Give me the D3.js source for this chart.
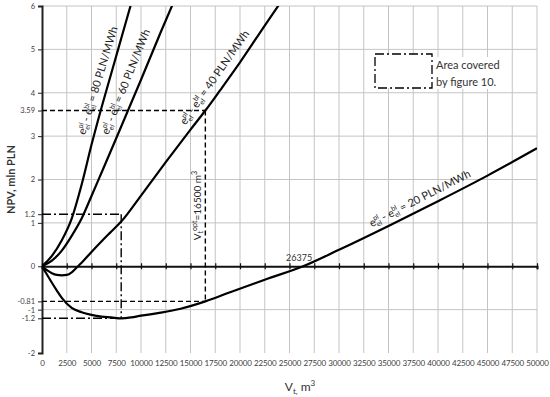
<!DOCTYPE html>
<html><head><meta charset="utf-8">
<script src="https://cdn.jsdelivr.net/npm/d3@7"></script>
<style>
body{margin:0;background:#fff;}
svg{display:block;font-family:Lato,"Open Sans",sans-serif;}
</style></head>
<body>
<svg id="chart" width="550" height="397"></svg>
<script>
// ---- data ----
const x20 = [0, 500, 1000, 1500, 2000, 3000, 4000, 5000, 6000, 7000, 8000, 9000, 10000, 12000, 14000, 16500, 19000, 22500, 26375, 30000, 35000, 40000, 45000, 50000];
const y20 = [0, -0.19, -0.38, -0.56, -0.73, -0.96, -1.06, -1.12, -1.16, -1.18, -1.2, -1.18, -1.14, -1.07, -0.98, -0.81, -0.6, -0.31, 0, 0.38, 0.93, 1.5, 2.09, 2.72];
const x40 = [0, 500, 1000, 1500, 2000, 2500, 3000, 3500, 4000, 5000, 6000, 7000, 8000, 10000, 12500, 15000, 16500, 18000, 20000, 22500, 24000];
const y40 = [0, -0.09, -0.16, -0.2, -0.21, -0.2, -0.14, -0.03, 0.08, 0.33, 0.57, 0.8, 1.03, 1.63, 2.4, 3.15, 3.59, 4.06, 4.7, 5.55, 6.05];
const x60 = [0, 1000, 2000, 3000, 4000, 5000, 6000, 7500, 10000, 12000, 13500];
const y60 = [0, 0.13, 0.36, 0.7, 1.1, 1.62, 2.15, 2.95, 4.3, 5.4, 6.2];
const x80 = [0, 1000, 2000, 3000, 4000, 5000, 6000, 7000, 8000, 9000, 9500];
const y80 = [0, 0.24, 0.6, 1.1, 1.88, 2.8, 3.65, 4.45, 5.25, 6.05, 6.45];

const seriesValues = ["80", "60", "40", "20"];
const xTicks = d3.range(0, 50001, 2500);
const yTicks = [-2, -1, 0, 1, 2, 3, 4, 5, 6];
const yExtraTicks = [3.59, 1.2, -0.81, -1.2];
const vOpt = 16500, npvOptHigh = 3.59, npvOptLow = -0.81;
const vArea = 8000, areaHigh = 1.2, areaLow = -1.2;
const breakEven = 26375;

// ---- scales ----
const svg = d3.select("#chart");
const x = d3.scaleLinear().domain([0, 50000]).range([42, 537]);
const y = d3.scaleLinear().domain([-2, 6]).range([353, 6]);

svg.append("defs").append("clipPath").attr("id", "clip")
  .append("rect").attr("x", x(0)).attr("y", y(6)).attr("width", x(50000) - x(0)).attr("height", y(-2) - y(6));

// gridlines
const grid = svg.append("g");
grid.selectAll("line.v").data(xTicks.filter(d => d > 0)).join("line")
  .attr("x1", d => x(d)).attr("x2", d => x(d)).attr("y1", y(6)).attr("y2", y(-2))
  .attr("stroke", "#c4c4c4").attr("stroke-width", 1);
grid.selectAll("line.h").data(yTicks.filter(d => d !== 0 && d !== -2)).join("line")
  .attr("x1", x(0)).attr("x2", x(50000)).attr("y1", d => y(d)).attr("y2", d => y(d))
  .attr("stroke", "#c4c4c4").attr("stroke-width", 1);

// left axis
const yAxis = svg.append("g").attr("transform", `translate(${x(0)},0)`)
  .call(d3.axisLeft(y).tickValues(yTicks.concat(yExtraTicks)).tickSize(4).tickPadding(3).tickFormat(d => String(d)));
yAxis.select(".domain").attr("stroke", "#222").attr("stroke-width", 2);
yAxis.selectAll(".tick line").attr("stroke", "#222");
yAxis.selectAll(".tick text").attr("font-size", 7.5).attr("fill", "#404040").attr("font-family", "Lato, sans-serif");

// x axis at zero
const xAxis = svg.append("g").attr("transform", `translate(0,${y(0)})`)
  .call(d3.axisBottom(x).tickValues(xTicks).tickSize(3).tickFormat(""));
xAxis.select(".domain").attr("stroke", "#111").attr("stroke-width", 2);
xAxis.selectAll(".tick line").attr("y1", -3).attr("y2", 3).attr("stroke", "#111").attr("stroke-width", 1.2);

// bottom labels
const xLab = svg.append("g").attr("transform", `translate(0,${y(-2)})`)
  .call(d3.axisBottom(x).tickValues(xTicks).tickSize(0).tickPadding(7).tickFormat(d => String(d)));
xLab.select(".domain").remove();
xLab.selectAll(".tick text").attr("font-size", 8).attr("letter-spacing", -0.15).attr("fill", "#404040").attr("font-family", "Lato, sans-serif");

// axis titles
svg.append("text").attr("transform", `translate(15,${(y(6) + y(-2)) / 2}) rotate(-90)`)
  .attr("text-anchor", "middle").attr("font-size", 11).attr("font-weight", "bold").attr("fill", "#333")
  .text("NPV, mln PLN");
const xt = svg.append("text").attr("x", 300).attr("y", 391).attr("text-anchor", "middle")
  .attr("font-size", 12).attr("fill", "#333");
xt.append("tspan").text("V");
xt.append("tspan").attr("font-size", 8).attr("dy", 3).text("t,");
xt.append("tspan").attr("dy", -3).text(" m");
xt.append("tspan").attr("font-size", 8).attr("dy", -5).text("3");

// annotation lines
const ann = svg.append("g").attr("fill", "none").attr("stroke", "#000").attr("stroke-width", 1.4);
const dash = "5,3", dashDot = "9,3,2,3";
ann.append("line").attr("x1", x(0)).attr("x2", x(vOpt)).attr("y1", y(npvOptHigh)).attr("y2", y(npvOptHigh)).attr("stroke-dasharray", dash);
ann.append("line").attr("x1", x(0)).attr("x2", x(vOpt)).attr("y1", y(npvOptLow)).attr("y2", y(npvOptLow)).attr("stroke-dasharray", dash);
ann.append("line").attr("x1", x(vOpt)).attr("x2", x(vOpt)).attr("y1", y(npvOptHigh)).attr("y2", y(npvOptLow)).attr("stroke-dasharray", dash);
ann.append("line").attr("x1", x(0)).attr("x2", x(vArea)).attr("y1", y(areaHigh)).attr("y2", y(areaHigh)).attr("stroke-dasharray", dashDot);
ann.append("line").attr("x1", x(0)).attr("x2", x(vArea)).attr("y1", y(areaLow)).attr("y2", y(areaLow)).attr("stroke-dasharray", dashDot);
ann.append("line").attr("x1", x(vArea)).attr("x2", x(vArea)).attr("y1", y(areaHigh)).attr("y2", y(areaLow)).attr("stroke-dasharray", dashDot);

// curves
const line = d3.line().x(d => x(d[0])).y(d => y(d[1])).curve(d3.curveMonotoneX);
const series = [[x80, y80], [x60, y60], [x40, y40], [x20, y20]];
svg.append("g").attr("clip-path", "url(#clip)").selectAll("path").data(series).join("path")
  .attr("d", s => line(s[0].map((v, i) => [v, s[1][i]])))
  .attr("fill", "none").attr("stroke", "#000").attr("stroke-width", 2.2);

// curve labels
function curveLabel(px, py, angle, val) {
  const t = svg.append("text").attr("transform", `translate(${px},${py}) rotate(${angle})`)
    .attr("font-size", 11).attr("fill", "#222");
  t.append("tspan").text("e");
  t.append("tspan").attr("font-size", 7).attr("dy", 2.5).text("el");
  t.append("tspan").attr("font-size", 7).attr("dx", -6).attr("dy", -7).text("pl");
  t.append("tspan").attr("dy", 4.5).text(" - e");
  t.append("tspan").attr("font-size", 7).attr("dy", 2.5).text("el");
  t.append("tspan").attr("font-size", 7).attr("dx", -6).attr("dy", -7).text("bl");
  t.append("tspan").attr("dy", 4.5).text(` = ${val} PLN/MWh`);
}
curveLabel(x(4750) - 4, y(3.0) - 1, -73, seriesValues[0]);
curveLabel(x(7000) - 3, y(3.0) - 1, -68, seriesValues[1]);
curveLabel(x(14800) - 3, y(3.2) - 2, -55, seriesValues[2]);
curveLabel(x(33300), y(0.9), -27, seriesValues[3]);

// Vopt label
const vt = svg.append("text").attr("transform", `translate(${x(vOpt) - 4},${y(1.4)}) rotate(-90)`)
  .attr("text-anchor", "middle").attr("font-size", 10).attr("fill", "#222");
vt.append("tspan").text("V");
vt.append("tspan").attr("font-size", 7).attr("dy", 2).text("t");
vt.append("tspan").attr("font-size", 7).attr("dy", -6).text("opt");
vt.append("tspan").attr("dy", 4).text("=16500 m");
vt.append("tspan").attr("font-size", 7).attr("dy", -4).text("3");

// break-even label
svg.append("text").attr("x", x(breakEven) - 4).attr("y", y(0) - 5).attr("text-anchor", "middle")
  .attr("font-size", 9).attr("fill", "#333").text(String(breakEven));

// legend box
svg.append("rect").attr("x", 375).attr("y", 54).attr("width", 57).attr("height", 34)
  .attr("fill", "#fff").attr("stroke", "#000").attr("stroke-width", 1.3).attr("stroke-dasharray", dashDot);
svg.append("rect").attr("x", 434).attr("y", 57).attr("width", 72).attr("height", 32).attr("fill", "#fff");
svg.append("text").attr("x", 436).attr("y", 69).attr("font-size", 11).attr("fill", "#333").text("Area covered");
svg.append("text").attr("x", 436).attr("y", 86).attr("font-size", 11).attr("fill", "#333").text("by figure 10.");
</script>
</body></html>
